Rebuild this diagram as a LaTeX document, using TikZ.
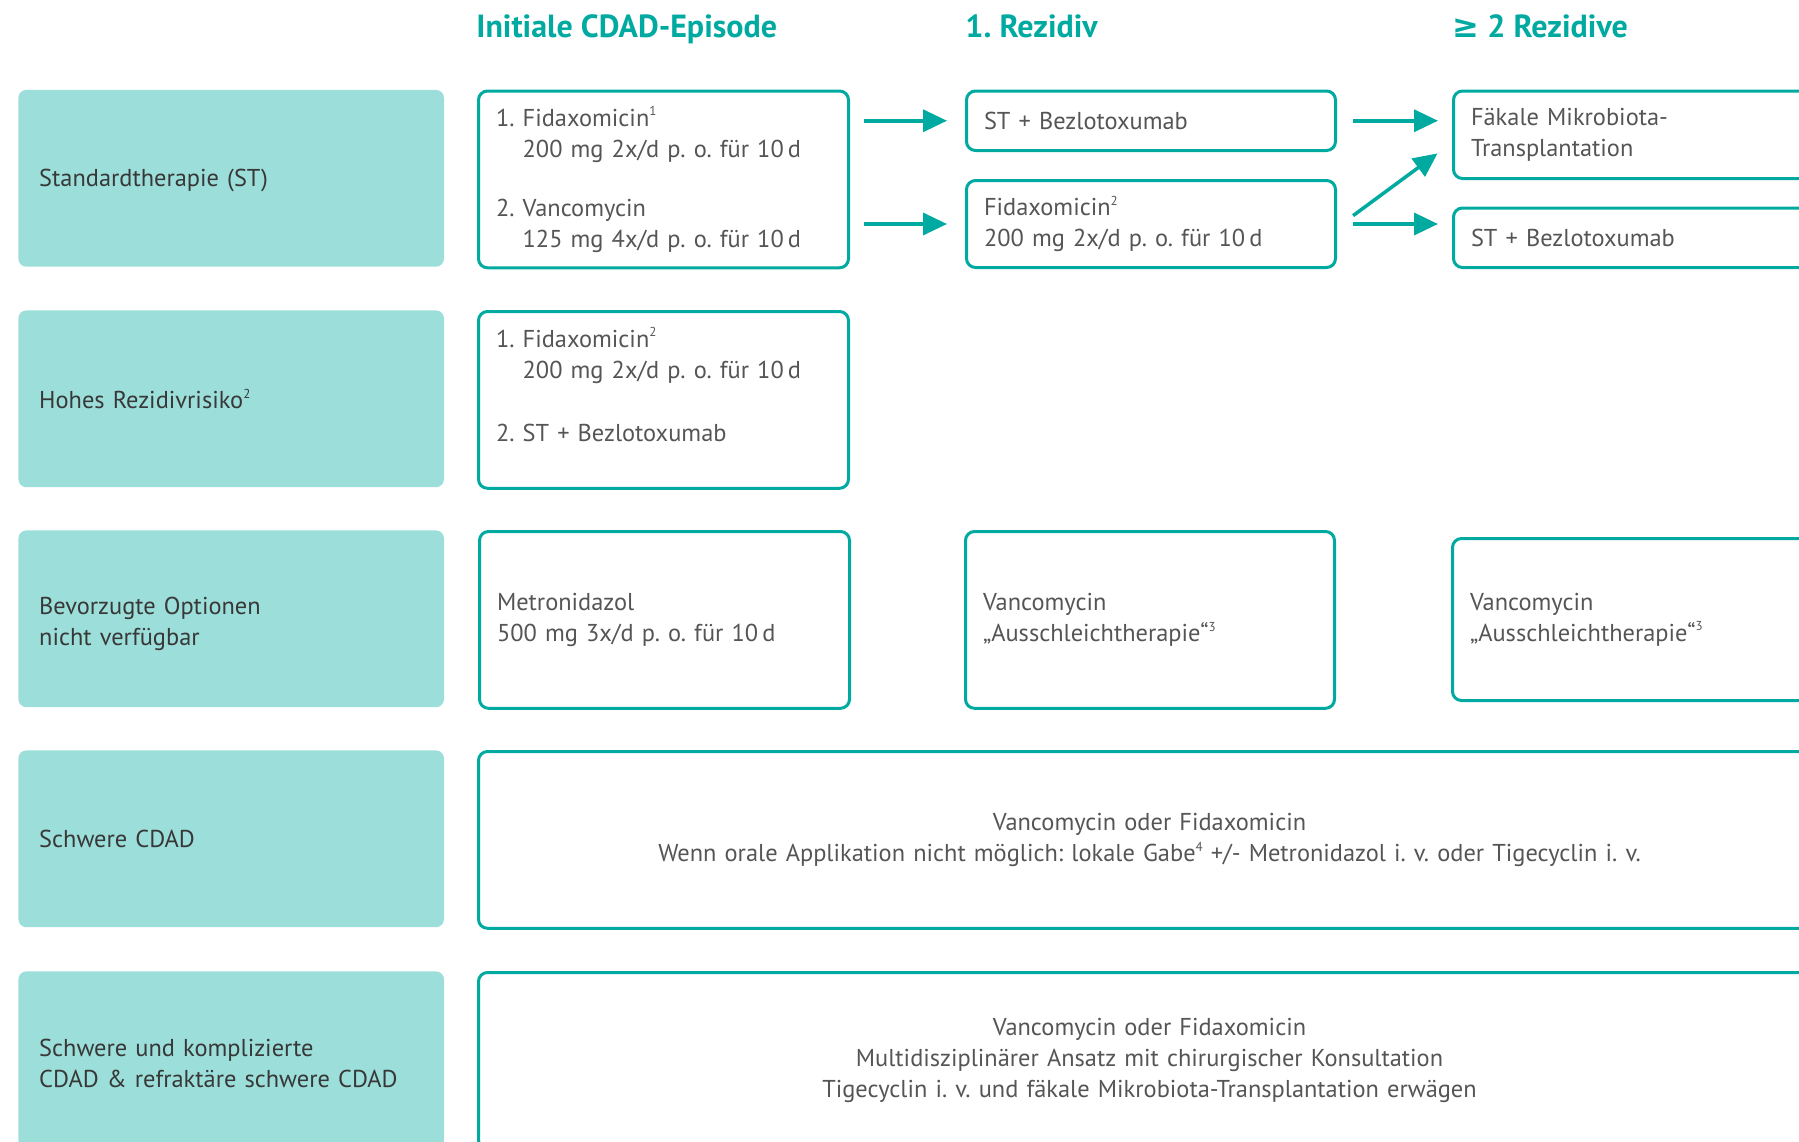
\documentclass[tikz,border=0pt]{standalone}
\usepackage{fontspec}
\setmainfont{PT Sans}
\newfontfamily\symfont{DejaVu Sans}
\usetikzlibrary{arrows.meta, positioning}
\definecolor{tealline}{HTML}{00AAA0}
\definecolor{tealfill}{HTML}{9CDFDA}
\definecolor{textgray}{HTML}{555555}
\newcommand{\ind}{\hphantom{1. }}
\newcommand{\hoch}[1]{\raisebox{0.85ex}{\fontsize{6.5}{6.5}\selectfont #1}}
\frenchspacing

\begin{document}
\begin{tikzpicture} [x=0.5pt, y=-0.5pt,
    font=\fontsize{12.2}{15.5}\selectfont,
    head/.style = {anchor=base west, inner sep=0pt, text=tealline,
        font=\fontsize{16}{18}\selectfont\bfseries},
    rowlabel/.style = {anchor=north west, fill=tealfill, rounded corners=4pt,
        text width=192pt, inner xsep=10.4pt, minimum height=88.4pt,
        text depth=0pt, align=left, text=black!78},
    twolines/.style = {text depth=12.5pt},
    therapy/.style = {anchor=north west, draw=tealline, line width=1.5pt,
        rounded corners=4.5pt, text=textgray, align=left, inner xsep=8.75pt,
        minimum height=88.4pt},
    arr/.style = {-{Triangle[length=12pt,width=11pt]}, color=tealline,
        line width=1.75pt}]
    \path [use as bounding box] (0,0) rectangle (1799,1141);
    \clip (0,0) rectangle (1799,1141);

    \node (h1) [head] at (476,37) {Initiale CDAD-Episode};
    \node (h2) [head] at (965,37) {1. Rezidiv};
    \node (h3) [head] at (1452,37) {{\symfont ≥} 2 Rezidive};

    % Zeilen
    \node (st) [rowlabel] at (18,89.5) {Standardtherapie (ST)};
    \node (hr) [rowlabel] at (18,310) {Hohes Rezidivrisiko\hoch{2}};
    \node (bo) [rowlabel, twolines] at (18,530) {Bevorzugte Optionen\\nicht verfügbar};
    \node (sc) [rowlabel] at (18,750) {Schwere CDAD};
    \node (sk) [rowlabel, twolines] at (18,971) {Schwere und komplizierte\\CDAD \& refraktäre schwere CDAD};

    % Standardtherapie
    \node (st1) [therapy, text width=167.5pt] at (477,89.5)
        {1. Fidaxomicin\hoch{1}\\ \ind 200 mg 2x/d p. o. für 10\,d\\[14pt]
         2. Vancomycin\\ \ind 125 mg 4x/d p. o. für 10\,d};
    \node (st2a) [therapy, text width=167pt, minimum height=29.75pt] at (965,89.5)
        {ST + Bezlotoxumab};
    \node (st2b) [therapy, text width=167pt, minimum height=43.5pt] at (965,179)
        {Fidaxomicin\hoch{2}\\200 mg 2x/d p. o. für 10\,d};
    \node (st3a) [therapy, text width=176.5pt, minimum height=43.75pt] at (1452,89.5)
        {Fäkale Mikrobiota-\\Transplantation};
    \node (st3b) [therapy, text width=176.5pt, minimum height=29.75pt] at (1452,206.5)
        {ST + Bezlotoxumab};

    % Hohes Rezidivrisiko
    \node (hr1) [therapy, text width=167.5pt] at (477,310)
        {1. Fidaxomicin\hoch{2}\\ \ind 200 mg 2x/d p. o. für 10\,d\\[16pt]
         2. ST + Bezlotoxumab\\ \mbox{}};

    % Bevorzugte Optionen nicht verfuegbar
    \node (bo1) [therapy, text width=167.5pt] at (478,530)
        {Metronidazol\\500 mg 3x/d p. o. für 10\,d};
    \node (bo2) [therapy, text width=167pt] at (964,530)
        {Vancomycin\\„Ausschleichtherapie“\hoch{3}};
    \node (bo3) [therapy, text width=176.5pt, minimum height=81pt] at (1451,537)
        {Vancomycin\\„Ausschleichtherapie“\hoch{3}};

    % Schwere CDAD
    \node (sc1) [therapy, text width=653.5pt, align=center] at (477,750)
        {Vancomycin oder Fidaxomicin\\Wenn orale Applikation nicht möglich: lokale Gabe\hoch{4} +/- Metronidazol i. v. oder Tigecyclin i. v.};
    \node (sk1) [therapy, text width=653.5pt, align=center] at (477,971)
        {Vancomycin oder Fidaxomicin\\Multidisziplinärer Ansatz mit chirurgischer Konsultation\\Tigecyclin i. v. und fäkale Mikrobiota-Transplantation erwägen};

    \path
        (st1.east |- st2a.west) edge [arr, shorten <=6.75pt, shorten >=9pt] (st2a.west)
        (st1.east |- st2b.west) edge [arr, shorten <=6.75pt, shorten >=9pt] (st2b.west)
        (st2a.east) edge [arr, shorten <=8pt, shorten >=7pt] (st3a.west |- st2a.east)
        (st2b.east) edge [arr, shorten <=8pt, shorten >=7pt] (st3b.west |- st2b.east)
        ([yshift=-1.75pt]st2b.east) edge [arr, shorten <=10pt, shorten >=9pt] ([yshift=-4pt]st3a.west);
\end{tikzpicture}
\end{document}
